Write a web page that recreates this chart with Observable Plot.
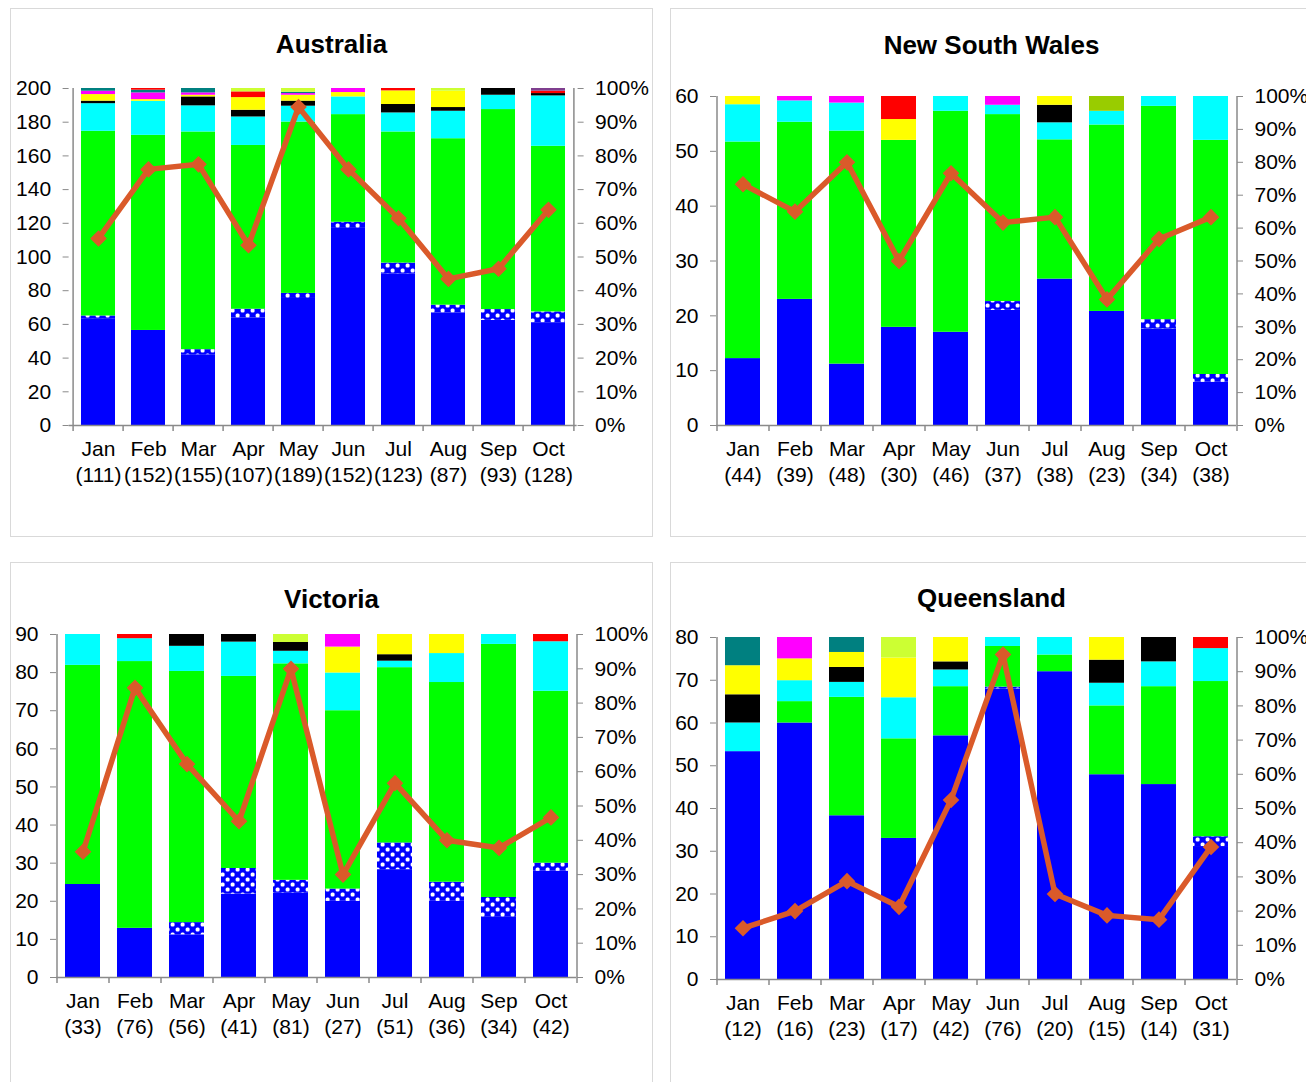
<!DOCTYPE html>
<html><head><meta charset="utf-8">
<script src="https://cdn.jsdelivr.net/npm/d3@7"></script>
<script src="https://cdn.jsdelivr.net/npm/@observablehq/plot@0.6"></script>
<style>
html,body{margin:0;padding:0;background:#fff;}
body{width:1306px;height:1082px;overflow:hidden;position:relative;font-family:"Liberation Sans",Arial,sans-serif;}
.panel{position:absolute;border:1.5px solid #d9d9d9;box-sizing:border-box;}
.title{position:absolute;font-weight:bold;font-size:26px;line-height:30px;text-align:center;color:#000;}
.holder{position:absolute;}
</style></head><body>
<svg width="0" height="0" style="position:absolute;left:0;top:0">
  <defs>
    <pattern id="chk" patternUnits="userSpaceOnUse" width="10" height="10">
      <rect width="10" height="10" fill="#0000FF"/>
      <rect x="0.6" y="0.6" width="4" height="4" rx="1.5" fill="#ffffff"/>
      <rect x="5.6" y="5.6" width="4" height="4" rx="1.5" fill="#ffffff"/>
    </pattern>
  </defs>
</svg>
<script>
// ---------- data ----------
const months = ["Jan","Feb","Mar","Apr","May","Jun","Jul","Aug","Sep","Oct"];
const seriesNames  = ["blue","checker","green","cyan","black","yellow","magenta","teal","red","yellowgreen","olive","purple"];
const seriesColors = ["#0000FF","url(#chk)","#00FF00","#00FFFF","#000000","#FFFF00","#FF00FF","#008080","#FF0000","#CCFF33","#99CC00","#7F3F8F"];

// Australia (left axis units, bars stack to 200)
const ausCounts = [111,152,155,107,189,152,123,87,93,128];
const ausBars = {
  blue:        [63.4,56.4,42,63.8,75.4,117,90,66.8,62.4,61],
  checker:     [1.6,0,3,5.2,3,3.6,6.4,4.6,6.4,6.4],
  green:       [109.6,115.8,129.2,97.2,101.7,63.9,77.8,98.8,118.7,98.3],
  cyan:        [16.4,20.2,15.5,16.9,9.4,10.5,11.3,16.3,8.5,29.9],
  black:       [1.5,0,5.3,4,3,0,5,2.2,4,1.4],
  yellow:      [3.9,1,1,7.5,3.5,2.6,8.1,9.7,0,0],
  magenta:     [2,4,1.4,0,1,2.4,0,0,0,0],
  teal:        [1.6,1.6,2.6,0,0.8,0,0,0,0,0],
  red:         [0,1,0,3.4,0,0,1.4,0,0,1.4],
  yellowgreen: [0,0,0,2,2.2,0,0,1.6,0,0],
  purple:      [0,0,0,0,0,0,0,0,0,1.6]
};

// New South Wales (bars stack to 60)
const nswCounts = [44,39,48,30,46,37,38,23,34,38];
const nswBars = {
  blue:    [12.2,23,11.2,17.9,17,21,26.7,20.8,17.6,7.9],
  checker: [0,0,0,0,0,1.6,0,0,1.7,1.4],
  green:   [39.5,32.3,42.5,34.1,40.3,34.1,25.4,34,38.9,42.7],
  cyan:    [6.8,3.9,5.1,0,2.7,1.7,3.1,2.5,1.8,8],
  black:   [0,0,0,0,0,0,3.2,0,0,0],
  yellow:  [1.5,0,0,3.8,0,0,1.6,0,0,0],
  magenta: [0,0.8,1.2,0,0,1.6,0,0,0,0],
  red:     [0,0,0,4.2,0,0,0,0,0,0],
  olive:   [0,0,0,0,0,0,0,2.7,0,0]
};

// Victoria (bars stack to 90)
const vicCounts = [33,76,56,41,81,27,51,36,34,42];
const vicBars = {
  blue:        [24.4,12.9,11.2,21.9,22.1,20,28.3,20,15.8,27.9],
  checker:     [0,0,3.2,6.7,3.4,3.2,7,5,5.2,2.1],
  green:       [57.5,70,65.9,50.4,56.8,46.8,46,52.4,66.4,45.1],
  cyan:        [8.1,6,6.6,9,3.3,9.9,1.7,7.6,2.6,13],
  black:       [0,0,3.1,2,2.3,0,1.7,0,0,0],
  yellow:      [0,0,0,0,0,6.8,5.3,5,0,0],
  magenta:     [0,0,0,0,0,3.3,0,0,0,0],
  red:         [0,1.1,0,0,0,0,0,0,0,1.9],
  yellowgreen: [0,0,0,0,2.1,0,0,0,0,0]
};

// Queensland (bars stack to 80)
const qldCounts = [12,16,23,17,42,76,20,15,14,31];
const qldBars = {
  blue:        [53.3,60,38.3,33,57,68,72,47.9,45.6,31.1],
  checker:     [0,0,0,0,0,0.4,0,0,0,2.3],
  green:       [0,5,27.7,23.3,11.5,9.5,3.9,16.1,22.9,36.3],
  cyan:        [6.7,4.9,3.5,9.6,3.9,2.1,4.1,5.3,5.8,7.7],
  black:       [6.6,0,3.5,0,1.9,0,0,5.4,5.7,0],
  yellow:      [6.8,5.1,3.5,9.3,5.7,0,0,5.3,0,0],
  magenta:     [0,5,0,0,0,0,0,0,0,0],
  teal:        [6.6,0,3.5,0,0,0,0,0,0,0],
  red:         [0,0,0,0,0,0,0,0,0,2.6],
  yellowgreen: [0,0,0,4.8,0,0,0,0,0,0]
};

// ---------- layout ----------
const panels = [
  {title:"Australia",       bars:ausBars, counts:ausCounts, max:200, step:20, box:[10,8,643,529],   plot:[68.6,576.6,88,425],  titleY:44},
  {title:"New South Wales", bars:nswBars, counts:nswCounts, max:60,  step:10, box:[670,8,643,529],  plot:[716,1236,96,425],    titleY:45},
  {title:"Victoria",        bars:vicBars, counts:vicCounts, max:90,  step:10, box:[10,562,643,522], plot:[56,576,634,977],     titleY:599},
  {title:"Queensland",      bars:qldBars, counts:qldCounts, max:80,  step:10, box:[670,562,643,522],plot:[716,1236,637,979],   titleY:598}
];

const lineColor = "#DA5A2A";
const axisColor = "#8a8a8a";
const fontSize = 21;

for (const p of panels) {
  const [bl, bt, bw, bh] = p.box;
  const [pl, pr, pt, pb] = p.plot;

  const frame = document.createElement("div");
  frame.className = "panel";
  Object.assign(frame.style, {left: bl+"px", top: bt+"px", width: bw+"px", height: bh+"px"});
  document.body.appendChild(frame);

  const t = document.createElement("div");
  t.className = "title";
  t.textContent = p.title;
  Object.assign(t.style, {left: bl+"px", width: bw+"px", top: (p.titleY - 15)+"px"});
  document.body.appendChild(t);

  const rows = [];
  for (const s of seriesNames) {
    const arr = p.bars[s];
    if (!arr) continue;
    arr.forEach((v, i) => { if (v > 0) rows.push({month: months[i], series: s, value: v}); });
  }
  const pts = months.map((m, i) => ({month: m, count: p.counts[i]}));
  const labelMap = new Map(months.map((m, i) => [m, `${m}\n(${p.counts[i]})`]));
  const leftTicks = d3.range(0, p.max + p.step / 2, p.step);
  const rightTicks = d3.range(0, 11).map(k => k * p.max / 10);
  const band = (pr - pl) / months.length;

  const chart = Plot.plot({
    width: bw, height: bh,
    marginLeft: pl - bl, marginRight: bl + bw - pr,
    marginTop: pt - bt, marginBottom: bt + bh - pb,
    style: {fontFamily: '"Liberation Sans", Arial, sans-serif', fontSize: fontSize+"px", color: "#000", background: "transparent", overflow: "visible"},
    x: {domain: months, paddingInner: 0.33, paddingOuter: 0.165},
    y: {domain: [0, p.max]},
    color: {domain: seriesNames, range: seriesColors},
    marks: [
      Plot.barY(rows, Plot.stackY({x: "month", y: "value", z: "series", fill: "series"})),
      Plot.ruleY([0], {stroke: axisColor, strokeWidth: 1.5}),
      Plot.ruleX([months[0]], {x: d => d, dx: -band/2, y1: 0, y2: p.max, stroke: axisColor, strokeWidth: 1.5}),
      Plot.ruleX([months[months.length-1]], {x: d => d, dx: band/2, y1: 0, y2: p.max, stroke: axisColor, strokeWidth: 1.5}),
      Plot.ruleX(months, {x: d => d, dx: -band/2, y1: 0, y2: 0, insetBottom: -6, stroke: axisColor, strokeWidth: 1.5}),
      Plot.ruleX([months[months.length-1]], {x: d => d, dx: band/2, y1: 0, y2: 0, insetBottom: -6, stroke: axisColor, strokeWidth: 1.5}),
      Plot.axisY({anchor: "left", ticks: leftTicks, tickSize: 6, tickPadding: 12, stroke: axisColor, fill: "#000", fontSize, label: null}),
      Plot.axisY({anchor: "right", ticks: rightTicks, tickSize: 6, tickPadding: 12, stroke: axisColor, fill: "#000", fontSize, label: null,
                  tickFormat: d => Math.round(d / p.max * 100) + "%"}),
      Plot.axisX({tickSize: 0, tickPadding: 13, fill: "#000", fontSize, lineHeight: 1.2, label: null,
                  tickFormat: d => labelMap.get(d)}),
      Plot.line(pts, {x: "month", y: "count", stroke: lineColor, strokeWidth: 5.5}),
      Plot.dot(pts, {x: "month", y: "count", symbol: "diamond2", r: 7.5, fill: lineColor, stroke: "none"})
    ]
  });
  const holder = document.createElement("div");
  holder.className = "holder";
  Object.assign(holder.style, {left: bl+"px", top: bt+"px", width: bw+"px", height: bh+"px"});
  holder.appendChild(chart);
  document.body.appendChild(holder);
}
</script>
</body></html>
